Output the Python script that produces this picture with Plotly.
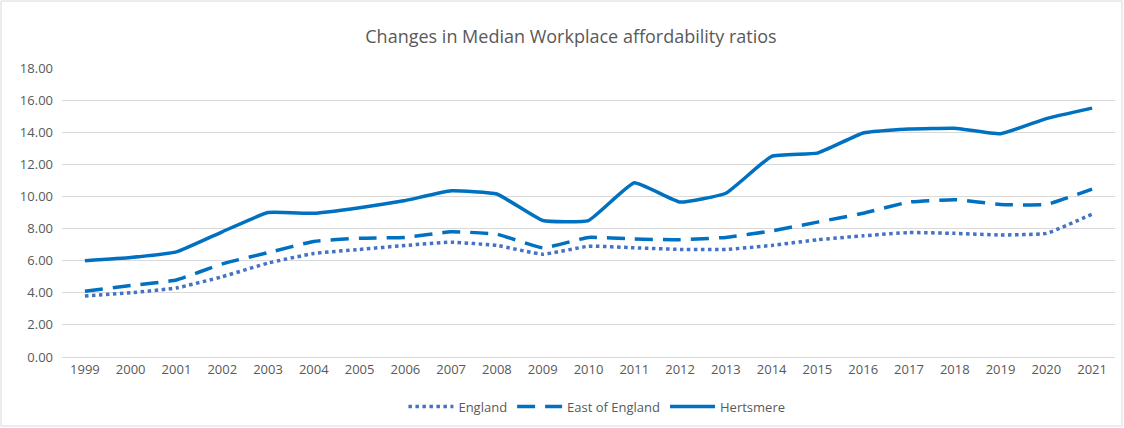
import plotly.graph_objects as go

years = [str(y) for y in range(1999, 2022)]
england = [3.8, 4.0, 4.3, 5.0, 5.85, 6.45, 6.7, 6.95, 7.15, 6.95, 6.4, 6.9, 6.8, 6.7, 6.7, 6.95, 7.3, 7.55, 7.75, 7.7, 7.6, 7.7, 8.9]
east_of_england = [4.1, 4.45, 4.8, 5.8, 6.5, 7.2, 7.4, 7.45, 7.8, 7.65, 6.8, 7.45, 7.35, 7.3, 7.45, 7.85, 8.4, 8.95, 9.65, 9.8, 9.5, 9.5, 10.45]
hertsmere = [6.0, 6.2, 6.55, 7.8, 9.0, 8.95, 9.3, 9.75, 10.35, 10.15, 8.5, 8.5, 10.85, 9.65, 10.2, 12.5, 12.7, 13.95, 14.2, 14.25, 13.9, 14.85, 15.5]
y_ticks = [0, 2, 4, 6, 8, 10, 12, 14, 16, 18]

fig = go.Figure()
fig.add_trace(go.Scatter(x=years, y=england, name="England", mode="lines",
                         line=dict(color="#4472C4", width=3.5, dash="dot", shape="spline", smoothing=0.35)))
fig.add_trace(go.Scatter(x=years, y=east_of_england, name="East of England", mode="lines",
                         line=dict(color="#0070C0", width=3.5, dash="18px,10px", shape="spline", smoothing=0.35)))
fig.add_trace(go.Scatter(x=years, y=hertsmere, name="Hertsmere", mode="lines",
                         line=dict(color="#0070C0", width=3.5, shape="spline", smoothing=0.35)))

fig.update_layout(
    width=1124, height=428,
    margin=dict(l=62, r=9, t=68, b=71, autoexpand=False),
    paper_bgcolor="white", plot_bgcolor="white",
    font=dict(family="Open Sans, Calibri, sans-serif", color="#595959", size=13),
    title=dict(text="Changes in Median Workplace affordability ratios", x=0.508, xanchor="center",
               y=0.915, yanchor="middle", font=dict(size=18, color="#595959")),
    showlegend=True,
    legend=dict(orientation="h", x=0.508, xanchor="center", yref="container", y=0.05, yanchor="middle",
                font=dict(size=13, color="#595959"), traceorder="normal", itemwidth=45),
    xaxis=dict(type="category", range=[-0.5, 22.5], showgrid=False, showline=True,
               linecolor="#D9D9D9", ticks="", tickfont=dict(size=13, color="#595959"), automargin=False),
    yaxis=dict(range=[0, 18], tickvals=y_ticks, ticktext=[f"{v:.2f}" for v in y_ticks],
               showgrid=True, gridcolor="#D9D9D9", gridwidth=1, zeroline=False, showline=False,
               ticks="", ticklabelstandoff=8, tickfont=dict(size=13, color="#595959"), automargin=False),
    shapes=[dict(type="rect", xref="paper", yref="paper", x0=-0.0579, x1=1.0066, y0=-0.2388, y1=1.2318,
                 line=dict(color="#D9D9D9", width=1), fillcolor="rgba(0,0,0,0)", layer="below")],
)

fig.write_html("out.html", config={"displayModeBar": False},
               post_script="document.body.style.margin='0';document.body.style.overflow='hidden';")
